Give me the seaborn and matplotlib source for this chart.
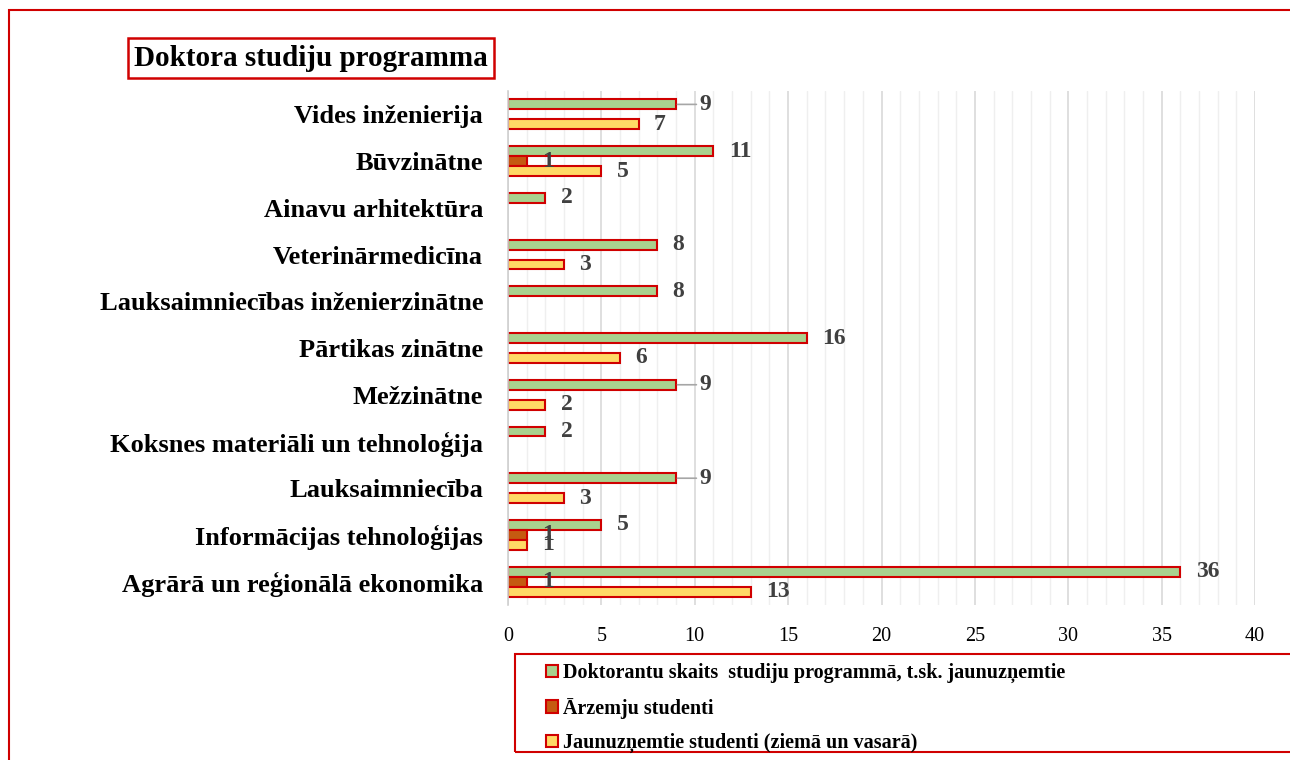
import pandas as pd
import matplotlib.pyplot as plt
import seaborn as sns
from matplotlib.patches import Rectangle
from matplotlib.ticker import MultipleLocator

programmas = ['Vides inženierija', 'Būvzinātne', 'Ainavu arhitektūra', 'Veterinārmedicīna',
              'Lauksaimniecības inženierzinātne', 'Pārtikas zinātne', 'Mežzinātne',
              'Koksnes materiāli un tehnoloģija', 'Lauksaimniecība',
              'Informācijas tehnoloģijas', 'Agrārā un reģionālā ekonomika']
doktoranti = [9, 11, 2, 8, 8, 16, 9, 2, 9, 5, 36]
arzemju = [0, 1, 0, 0, 0, 0, 0, 0, 0, 1, 1]
jaunuznemtie = [7, 5, 0, 3, 0, 6, 2, 0, 3, 1, 13]
series = ['Doktorantu skaits  studiju programmā, t.sk. jaunuzņemtie',
          'Ārzemju studenti',
          'Jaunuzņemtie studenti (ziemā un vasarā)']
colors = ['#A9D18E', '#C55A11', '#FFD966']
title = 'Doktora studiju programma'
# labels with a grey leader line (green series)
lideri = ['Vides inženierija', 'Mežzinātne', 'Lauksaimniecība']

red = '#D00000'

df = pd.DataFrame({
    'programma': programmas * 3,
    'skaits': doktoranti + arzemju + jaunuznemtie,
    'rādītājs': [series[0]] * 11 + [series[1]] * 11 + [series[2]] * 11,
})
df = df[df['skaits'] > 0]  # zero values are not drawn

sns.set_style('white')
plt.rcParams['font.family'] = ['Liberation Serif', 'DejaVu Serif']
plt.rcParams['text.color'] = 'black'
plt.rcParams['xtick.color'] = 'black'
plt.rcParams['ytick.color'] = 'black'

fig = plt.figure(figsize=(12.9, 7.6), dpi=100)
W, H = 1290, 760
ax = fig.add_axes([508 / W, 1 - 605 / H, (1255 - 508) / W, (605 - 91) / H])

sns.barplot(data=df, x='skaits', y='programma', hue='rādītājs', order=programmas,
            hue_order=series, palette=colors, saturation=1, width=0.64,
            edgecolor=red, linewidth=1.5, orient='h', ax=ax)

ax.set_xlim(0, 40)
ax.xaxis.set_major_locator(MultipleLocator(5))
ax.xaxis.set_minor_locator(MultipleLocator(1))
ax.grid(axis='x', which='major', color='#d9d9d9', lw=1.2)
ax.grid(axis='x', which='minor', color='#efefef', lw=1)
ax.set_axisbelow(True)
for s in ['top', 'right', 'bottom']:
    ax.spines[s].set_visible(False)
ax.spines['left'].set_color('#d0d0d0')
ax.spines['left'].set_linewidth(1.2)
ax.set_xlabel('')
ax.set_ylabel('')
ax.tick_params(axis='x', which='both', length=0, pad=16, labelsize=14.5, labelcolor='black')
ax.tick_params(axis='y', length=0, pad=18, labelsize=19, labelcolor='black')
for t in ax.get_yticklabels():
    t.set_fontweight('bold')

# data labels
for cont, name in zip(ax.containers, series):
    for p in cont:
        w = p.get_width()
        yc = p.get_y() + p.get_height() / 2
        cat = programmas[int(round(yc))]
        if name == series[0] and cat in lideri:
            ax.annotate(f'{w:g}', xy=(w, yc), xytext=(17, 0), textcoords='offset points',
                        ha='left', va='center', fontsize=17, fontweight='bold', color='#404040',
                        arrowprops=dict(arrowstyle='-', color='#a6a6a6', lw=1.2,
                                        shrinkA=0, shrinkB=1))
        else:
            ax.annotate(f'{w:g}', xy=(w, yc), xytext=(11, 0), textcoords='offset points',
                        ha='left', va='center', fontsize=17, fontweight='bold', color='#404040')

# legend
handles, labels = ax.get_legend_handles_labels()
ax.get_legend().remove()
leg = fig.legend(handles, labels, loc='upper left', bbox_to_anchor=(538 / W, 1 - 655 / H),
                 frameon=False, handlelength=0.6, handleheight=0.6, handletextpad=0.25,
                 labelspacing=0.72, borderaxespad=0, prop={'weight': 'bold', 'size': 14.5})
for t in leg.get_texts():
    t.set_color('black')
fig.add_artist(Rectangle((515 / W, 1 - 752 / H), 1.0, (752 - 654) / H,
                         transform=fig.transFigure, fill=False, ec=red, lw=1.5))

# title box
fig.text(311 / W, 1 - 58 / H, title, ha='center', va='center', fontsize=21, fontweight='bold',
         color='black',
         bbox=dict(boxstyle='square,pad=0.22', fc='white', ec=red, lw=1.8))

# outer frame
fig.add_artist(Rectangle((9 / W, -0.1), 1.2, 1 - 10 / H + 0.1,
                         transform=fig.transFigure, fill=False, ec=red, lw=1.5))

fig.savefig('out.png', dpi=100)
